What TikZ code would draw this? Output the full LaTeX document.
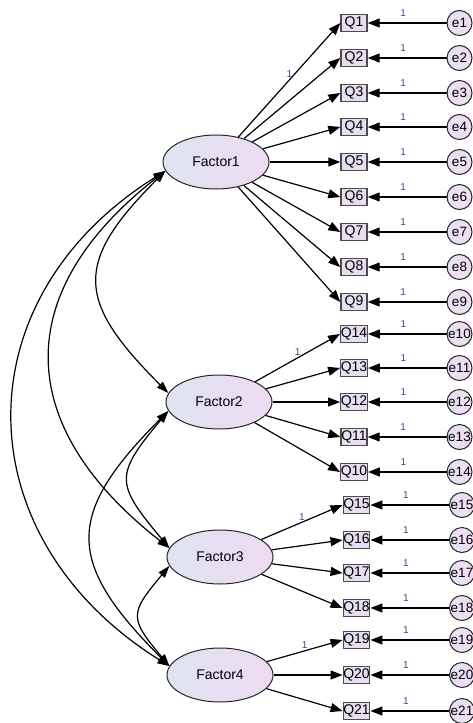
\documentclass[tikz,border=0pt]{standalone}
\usepackage{fontspec}
\setmainfont{Liberation Sans}
\usepackage{tikz}
\usetikzlibrary{arrows.meta,shapes.geometric}

\definecolor{factorL}{RGB}{222,228,240}
\definecolor{factorR}{RGB}{238,218,242}
\definecolor{itemfill}{RGB}{232,222,242}
\definecolor{errL}{RGB}{230,226,242}
\definecolor{errR}{RGB}{242,220,244}
\definecolor{wtcol}{RGB}{60,70,140}

\tikzset{
  factor/.style={ellipse, draw=black!85, line width=1pt, minimum width=106pt, minimum height=54pt,
    inner sep=0pt, left color=factorL, right color=factorR, font=\fontsize{14}{15}\selectfont},
  item/.style={rectangle, draw=black!70, line width=1.4pt, minimum width=26pt, minimum height=17pt,
    inner sep=0pt, fill=itemfill, font=\fontsize{14}{15}\selectfont},
  err/.style={circle, draw=black!85, line width=1pt, minimum size=25pt, inner sep=0pt,
    left color=errL, right color=errR, font=\fontsize{13.5}{14}\selectfont},
  load/.style={-{Triangle[length=12pt,width=9pt]}, line width=1.2pt},
  cov/.style={{Triangle[length=12pt,width=8pt]}-{Triangle[length=12pt,width=8pt]}, line width=1.2pt},
  wt/.style={font=\fontsize{10}{10}\selectfont, text=wtcol, inner sep=1pt},
}

\begin{document}
\begin{tikzpicture}[x=1pt,y=-1pt]
       \useasboundingbox (0,0) rectangle (473,723);

       \node[factor] (f1) at (216,162) {Factor1};
       \node[factor] (f2) at (219,402) {Factor2};
       \node[factor] (f3) at (220,557) {Factor3};
       \node[factor] (f4) at (220,675) {Factor4};

       % items, error terms and paths
       \foreach \q/\e/\x/\y/\f in {1/1/354/23/1, 2/2/354/58/1, 3/3/354/93/1, 4/4/354/127/1,
           5/5/354/162/1, 6/6/354/197/1, 7/7/354/232/1, 8/8/354/267/1, 9/9/354/302/1,
           14/10/354/334/2, 13/11/354/368/2, 12/12/354/402/2, 11/13/354/437/2, 10/14/354/472/2,
           15/15/356.5/505/3, 16/16/356.5/540/3, 17/17/356.5/573/3, 18/18/356.5/608/3,
           19/19/356.5/640/4, 20/20/356.5/675/4, 21/21/356.5/711/4} {
         \node[item] (q\q) at (\x,\y) {Q\q};
         \node[err] (e\e) at (\x+105.5,\y) {e\e};
         \draw[load] (f\f) -- (q\q.west);
         \draw[load] (e\e) -- node[wt, pos=0.55, above=5pt] {1} (q\q);
       }

       \path (f1) -- node[wt, pos=0.55, left=1pt] {1} (q1.west);
       \path (f2) -- node[wt, pos=0.5, above=1pt] {1} (q14.west);
       \path (f3) -- node[wt, pos=0.5, above=1pt] {1} (q15.west);
       \path (f4) -- node[wt, pos=0.5, above=1pt] {1} (q19.west);

       % covariances
       \draw[cov] (f1.190) to[out=225, in=135, looseness=1.5] (f2.170);
       \draw[cov] (f1.190) to[out=218, in=142, looseness=1.34] (f3.170);
       \draw[cov] (f1.190) to[out=212, in=148, looseness=1.25] (f4.170);
       \draw[cov] (f2.190) to[out=230, in=130, looseness=1.57] (f3.170);
       \draw[cov] (f2.190) to[out=225, in=135, looseness=1.47] (f4.170);
       \draw[cov] (f3.190) to[out=230, in=130, looseness=1.6] (f4.170);
\end{tikzpicture}
\end{document}
